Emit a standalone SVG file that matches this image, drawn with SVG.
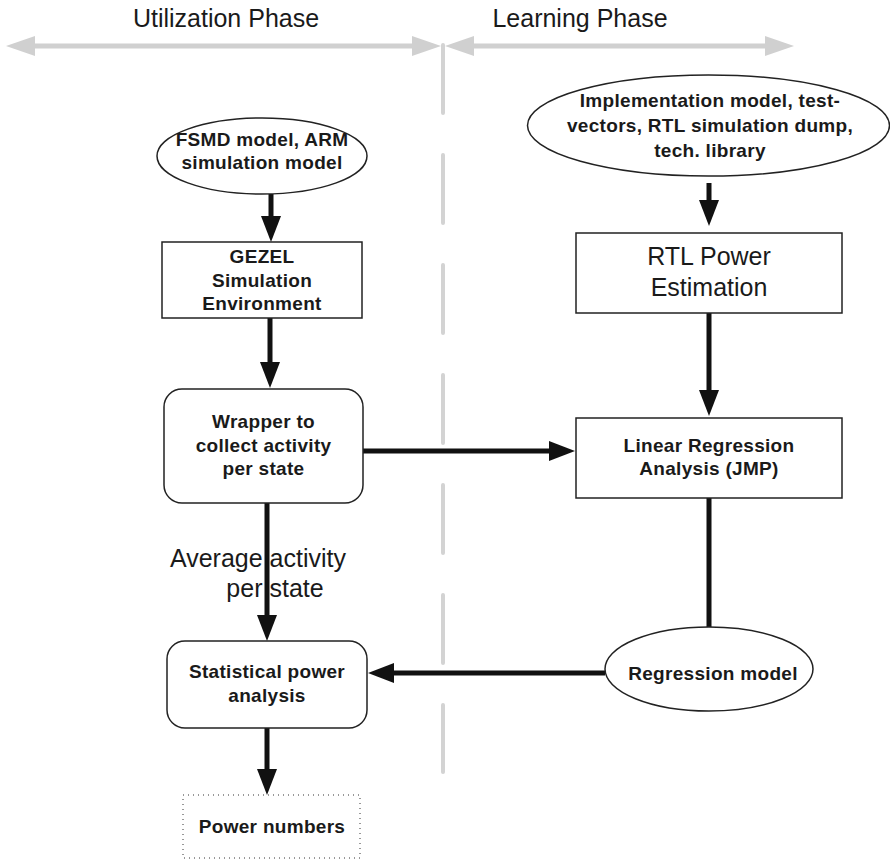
<svg xmlns="http://www.w3.org/2000/svg" width="890" height="861" viewBox="0 0 890 861">
  <defs>
    <marker id="head" markerUnits="userSpaceOnUse" markerWidth="26" markerHeight="20" refX="18" refY="10" orient="auto">
      <path d="M0,0 L26,10 L0,20 z" fill="#111"/>
    </marker>
    <style>
      .box { fill: #fff; stroke: #222; stroke-width: 1.5; }
      .dotted { fill: none; stroke: #333; stroke-width: 1; stroke-dasharray: 1 4; }
      .b { font-family: "Liberation Sans", Arial, sans-serif; font-weight: bold; font-size: 19px; letter-spacing: 0.3px; fill: #1a1a1a; text-anchor: middle; }
      .n { font-family: "Liberation Sans", Arial, sans-serif; font-size: 25px; fill: #1a1a1a; text-anchor: middle; }
      .wire { fill: none; stroke: #111; stroke-width: 5; }
      .arrow { marker-end: url(#head); }
      .phase { stroke: #d0d0d0; stroke-width: 5; fill: none; }
      .divider { stroke: #d3d3d3; stroke-width: 4; stroke-linecap: round; stroke-dasharray: 68 42; fill: none; }
    </style>
  </defs>

  <!-- phase banner -->
  <g id="phases">
    <text class="n" x="226" y="27">Utilization Phase</text>
    <text class="n" x="580" y="27">Learning Phase</text>
    <line class="phase" x1="30" y1="46" x2="418" y2="46"/>
    <polygon points="6,46 35,36 35,56" fill="#d0d0d0"/>
    <polygon points="441,46 412,36 412,56" fill="#d0d0d0"/>
    <line class="phase" x1="470" y1="46" x2="770" y2="46"/>
    <polygon points="445,46 474,36 474,56" fill="#d0d0d0"/>
    <polygon points="794,46 765,36 765,56" fill="#d0d0d0"/>
    <line class="divider" x1="443" y1="45" x2="443" y2="772"/>
  </g>

  <!-- connectors -->
  <g id="connectors">
    <line class="wire arrow" x1="271" y1="194" x2="271" y2="234"/>
    <line class="wire arrow" x1="270" y1="318" x2="270" y2="380"/>
    <line class="wire arrow" x1="363" y1="451" x2="567" y2="451"/>
    <line class="wire arrow" x1="267" y1="503" x2="267" y2="633"/>
    <line class="wire arrow" x1="267" y1="728" x2="267" y2="787"/>
    <line class="wire arrow" x1="709" y1="183" x2="709" y2="218"/>
    <line class="wire arrow" x1="709" y1="313" x2="709" y2="408"/>
    <line class="wire" x1="709" y1="498" x2="709" y2="627"/>
    <line class="wire arrow" x1="605" y1="673" x2="376" y2="673"/>
    <text class="n" x="258" y="567">Average activity</text>
    <text class="n" x="275" y="597">per state</text>
  </g>

  <g id="fsmd">
    <ellipse class="box" cx="262" cy="156" rx="105" ry="38"/>
    <text class="b" x="262" y="146">FSMD model, ARM</text>
    <text class="b" x="262" y="169">simulation model</text>
  </g>

  <g id="gezel">
    <rect class="box" x="162" y="242" width="200" height="76"/>
    <text class="b" x="262" y="263">GEZEL</text>
    <text class="b" x="262" y="287">Simulation</text>
    <text class="b" x="262" y="310">Environment</text>
  </g>

  <g id="wrapper">
    <rect class="box" x="164" y="389" width="199" height="114" rx="18"/>
    <text class="b" x="263.5" y="428">Wrapper to</text>
    <text class="b" x="263.5" y="452">collect activity</text>
    <text class="b" x="263.5" y="475">per state</text>
  </g>

  <g id="statistical">
    <rect class="box" x="167" y="641" width="200" height="87" rx="18"/>
    <text class="b" x="267" y="678">Statistical power</text>
    <text class="b" x="267" y="702">analysis</text>
  </g>

  <g id="power-numbers">
    <rect class="dotted" x="183" y="795" width="177" height="63"/>
    <text class="b" x="272" y="833">Power numbers</text>
  </g>

  <g id="inputs">
    <ellipse class="box" cx="708.5" cy="125.5" rx="181" ry="50.5"/>
    <text class="b" x="710" y="107">Implementation model, test-</text>
    <text class="b" x="710" y="132">vectors, RTL simulation dump,</text>
    <text class="b" x="710" y="157">tech. library</text>
  </g>

  <g id="rtl">
    <rect class="box" x="576" y="233" width="266" height="80"/>
    <text class="n" x="709" y="265">RTL Power</text>
    <text class="n" x="709" y="296">Estimation</text>
  </g>

  <g id="regression-analysis">
    <rect class="box" x="576" y="418" width="266" height="80"/>
    <text class="b" x="709" y="452">Linear Regression</text>
    <text class="b" x="709" y="475">Analysis (JMP)</text>
  </g>

  <g id="regression-model">
    <ellipse class="box" cx="709" cy="669" rx="104" ry="42"/>
    <text class="b" x="713" y="680">Regression model</text>
  </g>
</svg>
